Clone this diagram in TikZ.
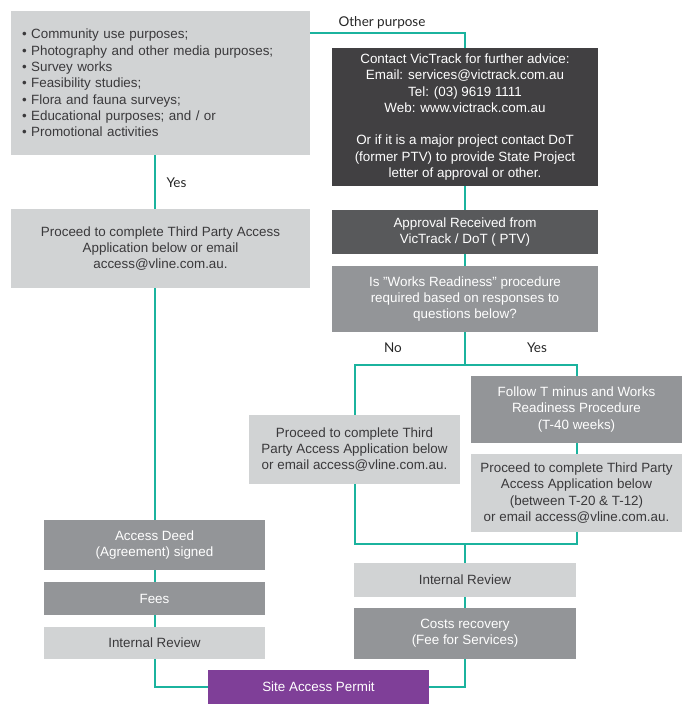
\documentclass[tikz,border=0pt]{standalone}
\usepackage{fontspec}
\setmainfont{Liberation Sans}[Ligatures=ResetAll]
\newfontfamily\labelfont{Lato}
\definecolor{lightbox}{HTML}{D1D3D4}
\definecolor{darkbox}{HTML}{414042}
\definecolor{apprbox}{HTML}{58595B}
\definecolor{midbox}{HTML}{939598}
\definecolor{permitbox}{HTML}{7F3F98}
\definecolor{teal}{HTML}{1BB39E}
\definecolor{boxtext}{HTML}{3A393B}
\tikzset{
  box/.style={rectangle, inner sep=0pt, align=center,
    font=\fontsize{13.4}{16.3}\selectfont},
  lightb/.style={box, fill=lightbox, text=boxtext},
  darkb/.style={box, fill=darkbox, text=white},
  apprb/.style={box, fill=apprbox, text=white},
  midb/.style={box, fill=midbox, text=white},
  permitb/.style={box, fill=permitbox, text=white},
  conn/.style={draw=teal, line width=2pt},
  lbl/.style={font=\labelfont\fontsize{13.5}{16}\selectfont, text=black!85, inner sep=0pt}
}
\begin{document}
\begin{tikzpicture}[x=1pt,y=-1pt]
\useasboundingbox (0,0) rectangle (690,716);
% nodes
\node[lightb, minimum width=299, minimum height=144, text width=277, align=left] (tl) at (160.5,83)
  {• Community use purposes;\\
   • Photography and other media purposes;\\
   • Survey works\\
   • Feasibility studies;\\
   • Flora and fauna surveys;\\
   • Educational purposes; and / or\\
   • Promotional activities};
\node[darkb, minimum width=266, minimum height=138] (dark) at (465,117)
  {Contact VicTrack for further advice:\\
   Email: services@victrack.com.au\\
   Tel: (03) 9619 1111\\
   Web: www.victrack.com.au\\[16.3pt]
   Or if it is a major project contact DoT\\
   (former PTV) to provide State Project\\
   letter of approval or other.};
\node[lightb, minimum width=299, minimum height=79] (lp) at (160.5,248.5)
  {Proceed to complete Third Party Access\\ Application below or email\\ access@vline.com.au.};
\node[apprb, minimum width=266, minimum height=44] (appr) at (465,232)
  {Approval Received from\\ VicTrack / DoT ( PTV)};
\node[midb, minimum width=266, minimum height=66] (works) at (465,299)
  {Is "Works Readiness" procedure\\ required based on responses to\\ questions below?};
\node[lightb, minimum width=211, minimum height=69] (lp2) at (354.5,449.5)
  {Proceed to complete Third\\ Party Access Application below\\ or email access@vline.com.au.};
\node[midb, minimum width=211, minimum height=67] (follow) at (576.5,409.5)
  {Follow T minus and Works\\ Readiness Procedure\\ (T-40 weeks)};
\node[lightb, minimum width=211, minimum height=78] (rp) at (576.5,493)
  {Proceed to complete Third Party\\ Access Application below\\ (between T-20 \& T-12)\\ or email access@vline.com.au.};
\node[midb, minimum width=221, minimum height=50] (deed) at (154.5,545)
  {Access Deed\\ (Agreement) signed};
\node[midb, minimum width=221, minimum height=33] (fees) at (154.5,598.5) {Fees};
\node[lightb, minimum width=221, minimum height=32] (ir1) at (154.5,643) {Internal Review};
\node[permitb, minimum width=221, minimum height=34] (permit) at (318.5,687) {Site Access Permit};
\node[lightb, minimum width=222, minimum height=34] (ir2) at (465,580) {Internal Review};
\node[midb, minimum width=222, minimum height=51] (costs) at (465,633.5)
  {Costs recovery\\ (Fee for Services)};
% labels
\node[lbl] (op) at (382,23) {Other purpose};
\node[lbl] (yes1) at (176.5,183) {Yes};
\node[lbl] (no2) at (393,348) {No};
\node[lbl] (yes2) at (537,348) {Yes};
% coordinates
\coordinate (opc) at (465,33);
\coordinate (split) at (465,365);
\coordinate (mg) at (465,544);
% connectors
\draw[conn] (tl.south -| deed.north) -- (lp.north -| deed.north);
\draw[conn] (lp.south -| deed.north) -- (deed.north);
\draw[conn] (deed.south) -- (fees.north);
\draw[conn] (fees.south) -- (ir1.north);
\draw[conn] (ir1.south) -- (ir1.south |- permit.west) -- (permit.west);
\draw[conn] (tl.east |- opc) -- (opc) -- (dark.north);
\draw[conn] (dark.south) -- (appr.north);
\draw[conn] (appr.south) -- (works.north);
\draw[conn] (works.south) -- (split);
\draw[conn] (lp2.north) -- (lp2.north |- split) -- (follow.north |- split) -- (follow.north);
\draw[conn] (follow.south) -- (rp.north);
\draw[conn] (lp2.south) -- (lp2.south |- mg) -- (rp.south |- mg) -- (rp.south);
\draw[conn] (mg) -- (ir2.north);
\draw[conn] (ir2.south) -- (costs.north);
\draw[conn] (costs.south) -- (costs.south |- permit.east) -- (permit.east);
\end{tikzpicture}
\end{document}
